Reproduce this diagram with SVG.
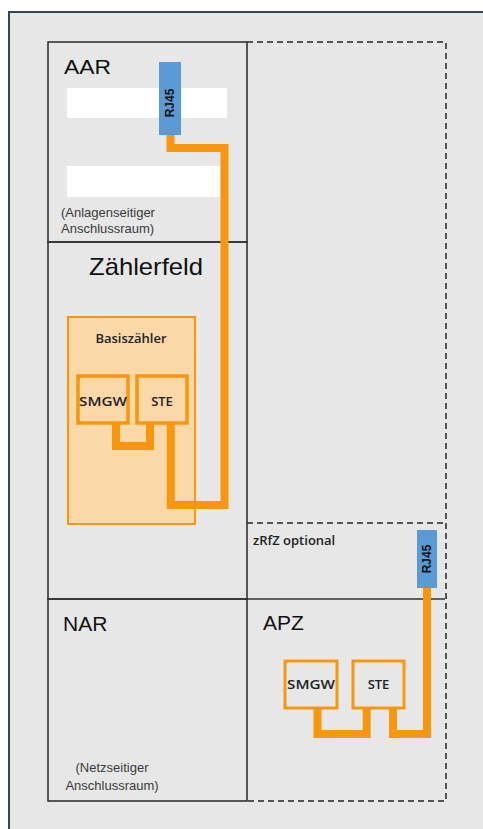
<svg xmlns="http://www.w3.org/2000/svg" width="483" height="829" viewBox="0 0 483 829">
<style>
.frame{fill:none;stroke:#333;stroke-width:1.6}
.dash{fill:none;stroke:#555;stroke-width:2;stroke-dasharray:6 4}
.big{font-family:"Liberation Sans",Arial,sans-serif;fill:#111}
.small{font-family:"Liberation Sans",Arial,sans-serif;fill:#3a3a3a;font-size:13px}
.lbl{font-family:"Open Sans","Liberation Sans",sans-serif;font-weight:600;fill:#222;font-size:13px}
.rj{fill:#5b9bd5}
.rjt{font-family:"Liberation Sans",Arial,sans-serif;font-weight:bold;fill:#111;font-size:12px}
.wire{fill:none;stroke:#f7960f;stroke-width:8;stroke-linejoin:miter;stroke-linecap:butt}
.box{fill:#fbd8a8;stroke:#f7960f;stroke-width:3.5}
.box2{fill:#e7e7e7;stroke:#f7960f;stroke-width:3}
</style>
<rect x="0" y="0" width="483" height="829" fill="#ffffff"/>
<rect x="9" y="12" width="480" height="825" fill="#e7e7e7" stroke="#34475a" stroke-width="2"/>

<g id="right-area">
<path class="dash" d="M247,42 H446 V801 H247"/>
<path class="dash" d="M247,523 H446"/>
</g>

<g id="AAR">
<rect class="frame" x="48" y="42" width="199" height="200"/>
<text class="big" x="64" y="74" font-size="20" textLength="47" lengthAdjust="spacingAndGlyphs">AAR</text>
<rect x="67" y="88" width="160" height="30" fill="#ffffff"/>
<rect x="67" y="166" width="153" height="31" fill="#ffffff"/>
<text class="small" x="61" y="217">(Anlagenseitiger</text>
<text class="small" x="61" y="233">Anschlussraum)</text>
</g>

<g id="Zaehlerfeld">
<rect class="frame" x="48" y="242" width="199" height="357"/>
<text class="big" x="89" y="275" font-size="24" textLength="114" lengthAdjust="spacingAndGlyphs">Zählerfeld</text>
</g>

<g id="Basiszaehler">
<rect x="68" y="317" width="127" height="207" fill="#fbd8a8" stroke="#f7960f" stroke-width="2"/>
<text class="lbl" x="131" y="343" text-anchor="middle" font-size="14">Basiszähler</text>
</g>

<g id="NAR">
<rect class="frame" x="48" y="599" width="199" height="202"/>
<text class="big" x="63" y="631" font-size="21">NAR</text>
<text class="small" x="112" y="772" text-anchor="middle">(Netzseitiger</text>
<text class="small" x="112" y="790" text-anchor="middle">Anschlussraum)</text>
</g>

<g id="APZ">
<path class="frame" d="M247,599 H445"/>
<text class="big" x="263" y="630" font-size="21">APZ</text>
</g>

<g id="zRfZ">
<text class="lbl" x="253" y="545" font-size="14">zRfZ optional</text>
</g>

<g id="connectors">
<path class="wire" d="M170.5,135 V148 H224.5 V505 H170.8 V423"/>
<path class="wire" d="M116,423 V446 H150 V423" stroke-width="7"/>
<path class="wire" d="M317.5,708 V734 H366.7 V708"/>
<path class="wire" d="M393,708 V734 H427 V588"/>
</g>

<g id="RJ45-top">
<rect class="rj" x="159" y="62" width="22" height="73"/>
<text class="rjt" transform="translate(174,103) rotate(-90)" text-anchor="middle">RJ45</text>
</g>

<g id="SMGW-1">
<rect class="box" x="78" y="376" width="50" height="47"/>
<text class="lbl" x="103" y="406" text-anchor="middle" font-size="13.5" textLength="48" lengthAdjust="spacingAndGlyphs">SMGW</text>
</g>
<g id="STE-1">
<rect class="box" x="137" y="376" width="50" height="47"/>
<text class="lbl" x="162" y="406" text-anchor="middle" font-size="13.5">STE</text>
</g>

<g id="RJ45-bottom">
<rect class="rj" x="417" y="530" width="20" height="58"/>
<text class="rjt" transform="translate(431,559) rotate(-90)" text-anchor="middle">RJ45</text>
</g>

<g id="SMGW-2">
<rect class="box2" x="285" y="661" width="52" height="47"/>
<text class="lbl" x="311" y="689" text-anchor="middle" font-size="14" textLength="48" lengthAdjust="spacingAndGlyphs">SMGW</text>
</g>
<g id="STE-2">
<rect class="box2" x="353" y="661" width="51" height="47"/>
<text class="lbl" x="378.5" y="689" text-anchor="middle" font-size="14">STE</text>
</g>
</svg>
